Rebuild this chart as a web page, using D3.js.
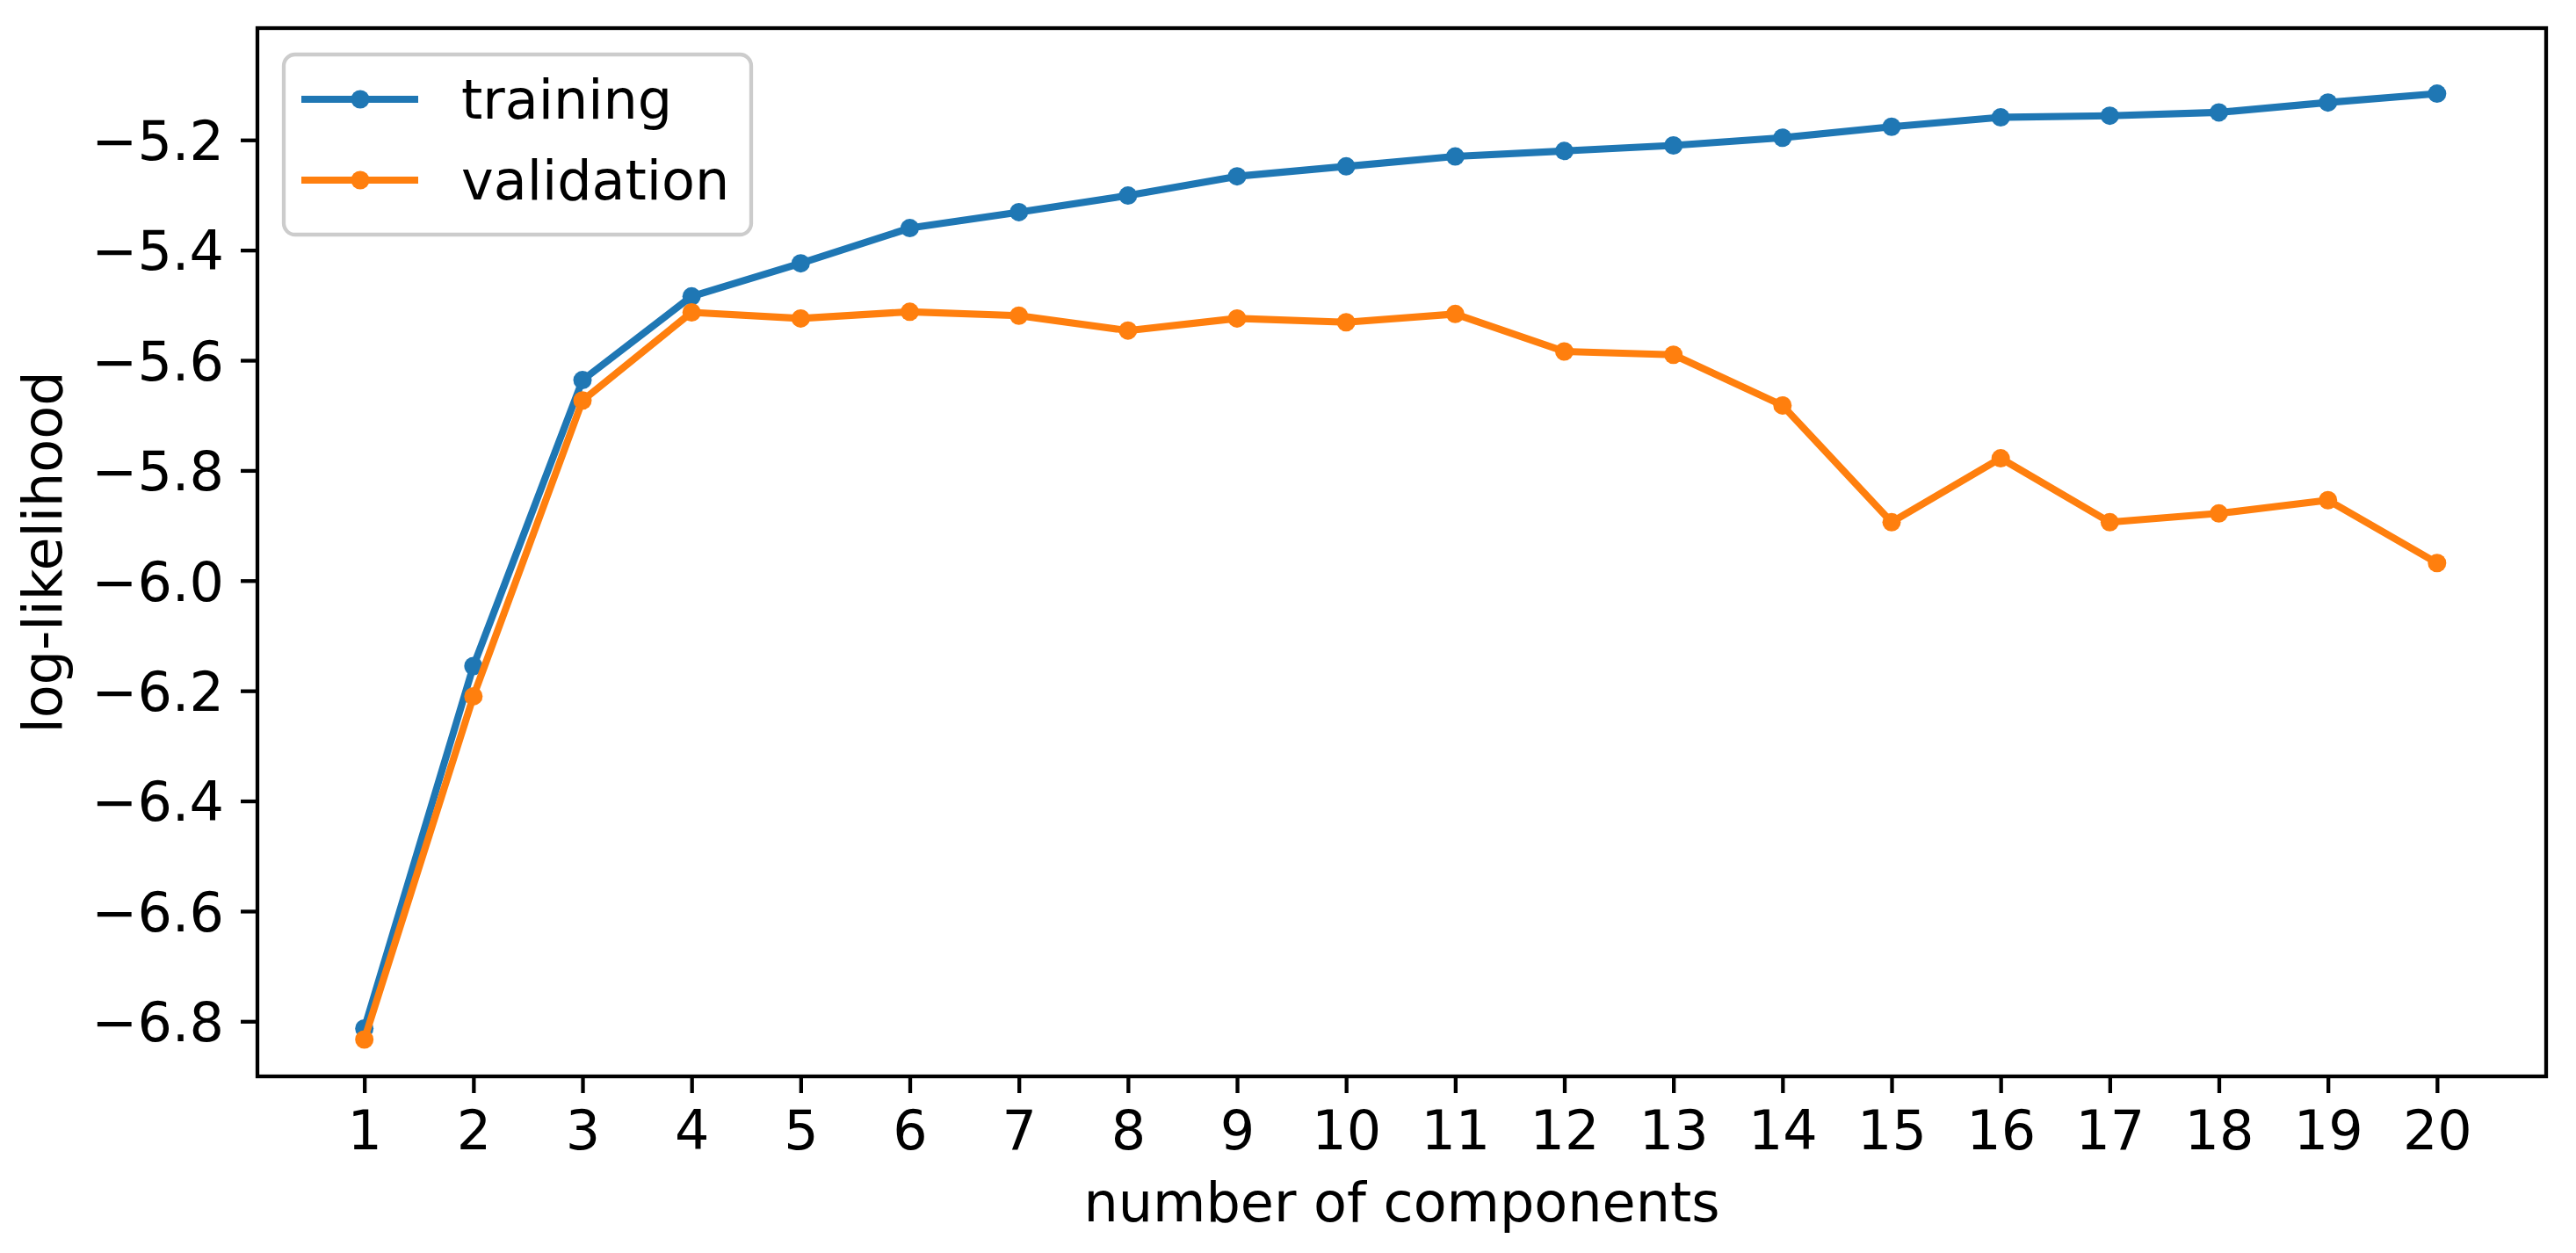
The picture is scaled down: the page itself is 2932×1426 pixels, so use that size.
<!DOCTYPE html>
<html>
<head>
<meta charset="utf-8">
<script src="https://cdn.jsdelivr.net/npm/d3@7"></script>
<style>
  body { margin: 0; background: #fff; }
  text { font-family: "DejaVu Sans", sans-serif; }
</style>
</head>
<body>
<div id="vis"></div>
<script>
// setting constants
const FRAME_WIDTH = 2932;
const FRAME_HEIGHT = 1426;
const MARGINS = {left: 293, right: 34, top: 32, bottom: 201};
const FONT_SIZE = 62;
const LINE_W = 8.1;
const SPINE_W = 4.3;

// data
const COMPONENTS = [1, 2, 3, 4, 5, 6, 7, 8, 9, 10, 11, 12, 13, 14, 15, 16, 17, 18, 19, 20];
const TRAINING = [-6.813, -6.155, -5.636, -5.484, -5.424, -5.360, -5.331, -5.301, -5.266, -5.248,
                  -5.230, -5.220, -5.210, -5.196, -5.176, -5.159, -5.156, -5.150, -5.132, -5.116];
const VALIDATION = [-6.833, -6.210, -5.673, -5.513, -5.524, -5.512, -5.519, -5.546, -5.524, -5.531,
                    -5.516, -5.584, -5.590, -5.682, -5.894, -5.778, -5.894, -5.878, -5.854, -5.968];
const Y_TICKS = [-6.8, -6.6, -6.4, -6.2, -6.0, -5.8, -5.6, -5.4, -5.2];
const SERIES_NAMES = ["training", "validation"];
const COLORS = ["#1f77b4", "#ff7f0e"];

const VIS_WIDTH = FRAME_WIDTH - MARGINS.left - MARGINS.right;
const VIS_HEIGHT = FRAME_HEIGHT - MARGINS.top - MARGINS.bottom;

const FRAME = d3.select("#vis")
  .append("svg")
    .attr("width", FRAME_WIDTH)
    .attr("height", FRAME_HEIGHT);

const PLOT = FRAME.append("g")
  .attr("transform", "translate(" + MARGINS.left + "," + MARGINS.top + ")");

// scales
const X_SCALE = d3.scaleLinear()
  .domain([0.02, 21.0])
  .range([0, VIS_WIDTH]);

const Y_SCALE = d3.scaleLinear()
  .domain([-6.9, -4.997])
  .range([VIS_HEIGHT, 0]);

// axes
const xAxis = PLOT.append("g")
  .attr("transform", "translate(0," + VIS_HEIGHT + ")")
  .call(d3.axisBottom(X_SCALE).tickValues(COMPONENTS).tickFormat(d3.format("d"))
          .tickSize(19).tickPadding(19).tickSizeOuter(0));

const yAxis = PLOT.append("g")
  .call(d3.axisLeft(Y_SCALE).tickValues(Y_TICKS).tickFormat(d3.format(".1f"))
          .tickSize(19).tickPadding(19).tickSizeOuter(0));

[xAxis, yAxis].forEach((ax) => {
  ax.attr("font-size", FONT_SIZE).attr("font-family", "DejaVu Sans");
  ax.select(".domain").remove();
  ax.selectAll(".tick line").attr("stroke", "#000").attr("stroke-width", SPINE_W);
  ax.selectAll(".tick text").attr("fill", "#000");
});
yAxis.selectAll(".tick text").attr("dy", "0.36em");
xAxis.selectAll(".tick text").attr("dy", "0.73em");

// lines and points
const seriesData = [TRAINING, VALIDATION];
const line = d3.line()
  .x((d, i) => X_SCALE(COMPONENTS[i]))
  .y((d) => Y_SCALE(d));

seriesData.forEach((vals, s) => {
  PLOT.append("path")
    .datum(vals)
    .attr("d", line)
    .attr("fill", "none")
    .attr("stroke", COLORS[s])
    .attr("stroke-width", LINE_W)
    .attr("stroke-linejoin", "round")
    .attr("stroke-linecap", "square");

  PLOT.selectAll(".pt" + s)
    .data(vals)
    .enter()
    .append("circle")
      .attr("class", "pt" + s)
      .attr("cx", (d, i) => X_SCALE(COMPONENTS[i]))
      .attr("cy", (d) => Y_SCALE(d))
      .attr("r", 10.5)
      .attr("fill", COLORS[s]);
});

// frame (all four spines)
PLOT.append("rect")
  .attr("x", 0).attr("y", 0)
  .attr("width", VIS_WIDTH).attr("height", VIS_HEIGHT)
  .attr("fill", "none")
  .attr("stroke", "#000")
  .attr("stroke-width", SPINE_W);

// legend
const LEGEND = FRAME.append("g");
LEGEND.append("rect")
  .attr("x", 323).attr("y", 62)
  .attr("width", 532).attr("height", 205)
  .attr("rx", 13)
  .attr("fill", "#fff").attr("fill-opacity", 0.8)
  .attr("stroke", "#cccccc").attr("stroke-width", SPINE_W);

SERIES_NAMES.forEach((name, s) => {
  const ly = 113 + s * 92;
  LEGEND.append("line")
    .attr("x1", 343).attr("x2", 476)
    .attr("y1", ly).attr("y2", ly)
    .attr("stroke", COLORS[s]).attr("stroke-width", LINE_W);
  LEGEND.append("circle")
    .attr("cx", 410).attr("cy", ly).attr("r", 10.5)
    .attr("fill", COLORS[s]);
  LEGEND.append("text")
    .attr("x", 525).attr("y", ly + 22)
    .attr("font-size", FONT_SIZE)
    .text(name);
});

// axis labels
FRAME.append("text")
  .attr("x", MARGINS.left + VIS_WIDTH / 2)
  .attr("y", 1390)
  .attr("text-anchor", "middle")
  .attr("font-size", FONT_SIZE)
  .text("number of components");

FRAME.append("text")
  .attr("transform", "translate(70," + (MARGINS.top + VIS_HEIGHT / 2) + ") rotate(-90)")
  .attr("text-anchor", "middle")
  .attr("font-size", FONT_SIZE)
  .text("log-likelihood");
</script>
</body>
</html>
